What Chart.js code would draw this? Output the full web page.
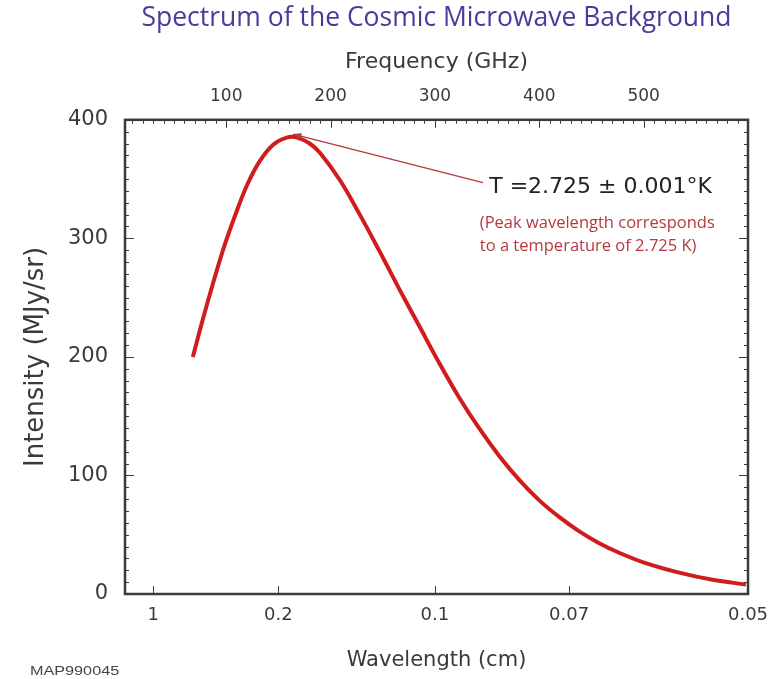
<!DOCTYPE html>
<html lang="en">
<head>
<meta charset="UTF-8">
<title>Spectrum of the Cosmic Microwave Background</title>
<script src="https://cdn.jsdelivr.net/npm/chart.js"></script>
<style>
  html, body { margin: 0; padding: 0; background: #fff; }
  #wrap { width: 784px; height: 679px; }
</style>
</head>
<body>
<div id="wrap"><canvas id="cmb"></canvas></div>
<script>
// curve: frequency in GHz, intensity in MJy/sr
const frequency = [68, 78, 88, 98, 108, 120, 132, 145, 158, 168, 180, 190, 209, 228, 247, 266, 285, 304, 323, 343, 362, 381, 400, 419, 438, 457, 476, 502, 534, 566, 598];
const intensity = [200, 233, 264, 293, 318, 345, 365, 379, 385, 385, 380, 372, 349, 320, 289, 257, 226, 195, 166, 139, 116, 96, 79, 65, 53, 43, 35, 26, 18, 12, 8];

const freqTicks = [100, 200, 300, 400, 500];          // top axis, GHz
const wavelengthTicks = [1, 0.2, 0.1, 0.07, 0.05];    // bottom axis, cm
const wavelengthLabels = ['1', '0.2', '0.1', '0.07', '0.05'];
const intensityTicks = [0, 100, 200, 300, 400];

const C_CM_GHZ = 30; // c in cm*GHz, converts wavelength to frequency

// annotation anchors in data units
const peakPoint = { x: 164, y: 388 };
const arrowStart = { x: 346, y: 347 };
const labelPos = { x: 352, y: 343 };
const notePos = { x: 343, y: 313 };

const AXIS_FONT = '"DejaVu Sans", Verdana, sans-serif';
const INK = '#3a3a3a';

const pts = frequency.map((f, i) => ({ x: f, y: intensity[i] }));

const frameTicks = {
  id: 'frameTicks',
  afterDatasetsDraw(chart) {
    const { ctx, chartArea: a, scales } = chart;
    const y = scales.y, top = scales.xTop, bot = scales.x;
    ctx.save();
    ctx.strokeStyle = INK;
    ctx.lineWidth = 1;
    const seg = (x1, y1, x2, y2) => { ctx.beginPath(); ctx.moveTo(x1, y1); ctx.lineTo(x2, y2); ctx.stroke(); };
    // left + right ticks, minor every 10
    for (let v = 10; v < 400; v += 10) {
      const py = Math.round(y.getPixelForValue(v)) + 0.5;
      const len = v % 100 === 0 ? 9 : 4;
      seg(a.left, py, a.left + len, py);
      seg(a.right, py, a.right - len, py);
    }
    // top ticks, minor every 10 GHz
    for (let f = 10; f < 600; f += 10) {
      const px = Math.round(top.getPixelForValue(f)) + 0.5;
      const len = f % 100 === 0 ? 8 : 4;
      seg(px, a.top, px, a.top + len);
    }
    // bottom ticks at the wavelength marks
    wavelengthTicks.forEach(w => {
      const px = Math.round(bot.getPixelForValue(C_CM_GHZ / w)) + 0.5;
      seg(px, a.bottom, px, a.bottom - 8);
    });
    ctx.lineWidth = 2.5;
    ctx.strokeRect(a.left, a.top, a.right - a.left, a.bottom - a.top);
    ctx.restore();
  }
};

const notes = {
  id: 'notes',
  afterDraw(chart) {
    const { ctx, scales } = chart;
    const X = v => scales.x.getPixelForValue(v), Y = v => scales.y.getPixelForValue(v);
    ctx.save();
    // arrow from the label to the peak
    const x1 = X(arrowStart.x), y1 = Y(arrowStart.y), x2 = X(peakPoint.x), y2 = Y(peakPoint.y);
    ctx.strokeStyle = '#b5393f';
    ctx.fillStyle = '#b5393f';
    ctx.lineWidth = 1.3;
    ctx.beginPath(); ctx.moveTo(x1, y1); ctx.lineTo(x2, y2); ctx.stroke();
    const ang = Math.atan2(y2 - y1, x2 - x1);
    ctx.beginPath();
    ctx.moveTo(x2, y2);
    ctx.lineTo(x2 - 9 * Math.cos(ang - 0.35), y2 - 9 * Math.sin(ang - 0.35));
    ctx.lineTo(x2 - 9 * Math.cos(ang + 0.35), y2 - 9 * Math.sin(ang + 0.35));
    ctx.closePath(); ctx.fill();

    ctx.textBaseline = 'middle';
    ctx.textAlign = 'left';
    ctx.fillStyle = '#222';
    ctx.font = '22px ' + AXIS_FONT;
    ctx.fillText('T =2.725 \u00b1 0.001\u00b0K', X(labelPos.x), Y(labelPos.y));

    ctx.fillStyle = '#b5393f';
    ctx.font = '16.5px "Open Sans", sans-serif';
    ctx.fillText('(Peak wavelength corresponds', X(notePos.x), Y(notePos.y));
    ctx.fillText('to a temperature of 2.725 K)', X(notePos.x), Y(notePos.y) + 23);

    // catalogue id bottom left
    ctx.fillStyle = '#444';
    ctx.font = '12px "Liberation Sans", Arial, sans-serif';
    ctx.translate(30, 672);
    ctx.scale(1.35, 1);
    ctx.fillText('MAP990045', 0, 0);
    ctx.restore();
  }
};

new Chart(document.getElementById('cmb'), {
  type: 'line',
  data: {
    datasets: [{
      label: 'CMB intensity',
      data: pts,
      borderColor: '#d01c1c',
      borderWidth: 4,
      pointRadius: 0,
      tension: 0.4,
      fill: false
    }]
  },
  options: {
    responsive: true,
    maintainAspectRatio: false,
    animation: false,
    layout: { padding: { left: 0, right: 36, top: 0, bottom: 0 } },
    plugins: {
      legend: { display: false },
      tooltip: { enabled: false },
      title: {
        display: true,
        fullSize: false,
        text: 'Spectrum of the Cosmic Microwave Background',
        color: '#4b3a9e',
        font: { family: '"Open Sans", sans-serif', size: 26.5, weight: 'normal' },
        padding: { top: 3, bottom: 1 }
      }
    },
    scales: {
      x: {
        type: 'linear',
        position: 'bottom',
        min: 3,
        max: 600,
        grid: { display: false, drawTicks: false },
        border: { display: false },
        afterBuildTicks: s => { s.ticks = wavelengthTicks.map(w => ({ value: C_CM_GHZ / w })); },
        afterFit: s => { s.height = 85; },
        ticks: {
          padding: 11,
          color: INK,
          maxRotation: 0,
          autoSkip: false,
          font: { family: AXIS_FONT, size: 18 },
          callback: (v, i) => wavelengthLabels[i]
        },
        title: {
          display: true,
          text: 'Wavelength (cm)',
          color: INK,
          font: { family: AXIS_FONT, size: 21 },
          padding: { top: 0, bottom: 6 }
        }
      },
      xTop: {
        type: 'linear',
        position: 'top',
        min: 3,
        max: 600,
        grid: { display: false, drawTicks: false },
        border: { display: false },
        afterBuildTicks: s => { s.ticks = freqTicks.map(f => ({ value: f })); },
        afterFit: s => { s.height = 84; },
        ticks: {
          padding: 13,
          color: INK,
          maxRotation: 0,
          autoSkip: false,
          font: { family: AXIS_FONT, size: 17 }
        },
        title: {
          display: true,
          text: 'Frequency (GHz)',
          color: INK,
          font: { family: AXIS_FONT, size: 22 },
          padding: { top: 13, bottom: 0 }
        }
      },
      y: {
        min: 0,
        max: 400,
        grid: { display: false, drawTicks: false },
        border: { display: false },
        afterBuildTicks: s => { s.ticks = intensityTicks.map(v => ({ value: v })); },
        afterFit: s => { s.width = 125; },
        ticks: {
          padding: 17,
          color: INK,
          font: { family: AXIS_FONT, size: 21 }
        },
        title: {
          display: true,
          text: 'Intensity (MJy/sr)',
          color: INK,
          font: { family: AXIS_FONT, size: 26 },
          padding: { top: 21, bottom: 0 }
        }
      }
    }
  },
  plugins: [frameTicks, notes]
});
</script>
</body>
</html>
